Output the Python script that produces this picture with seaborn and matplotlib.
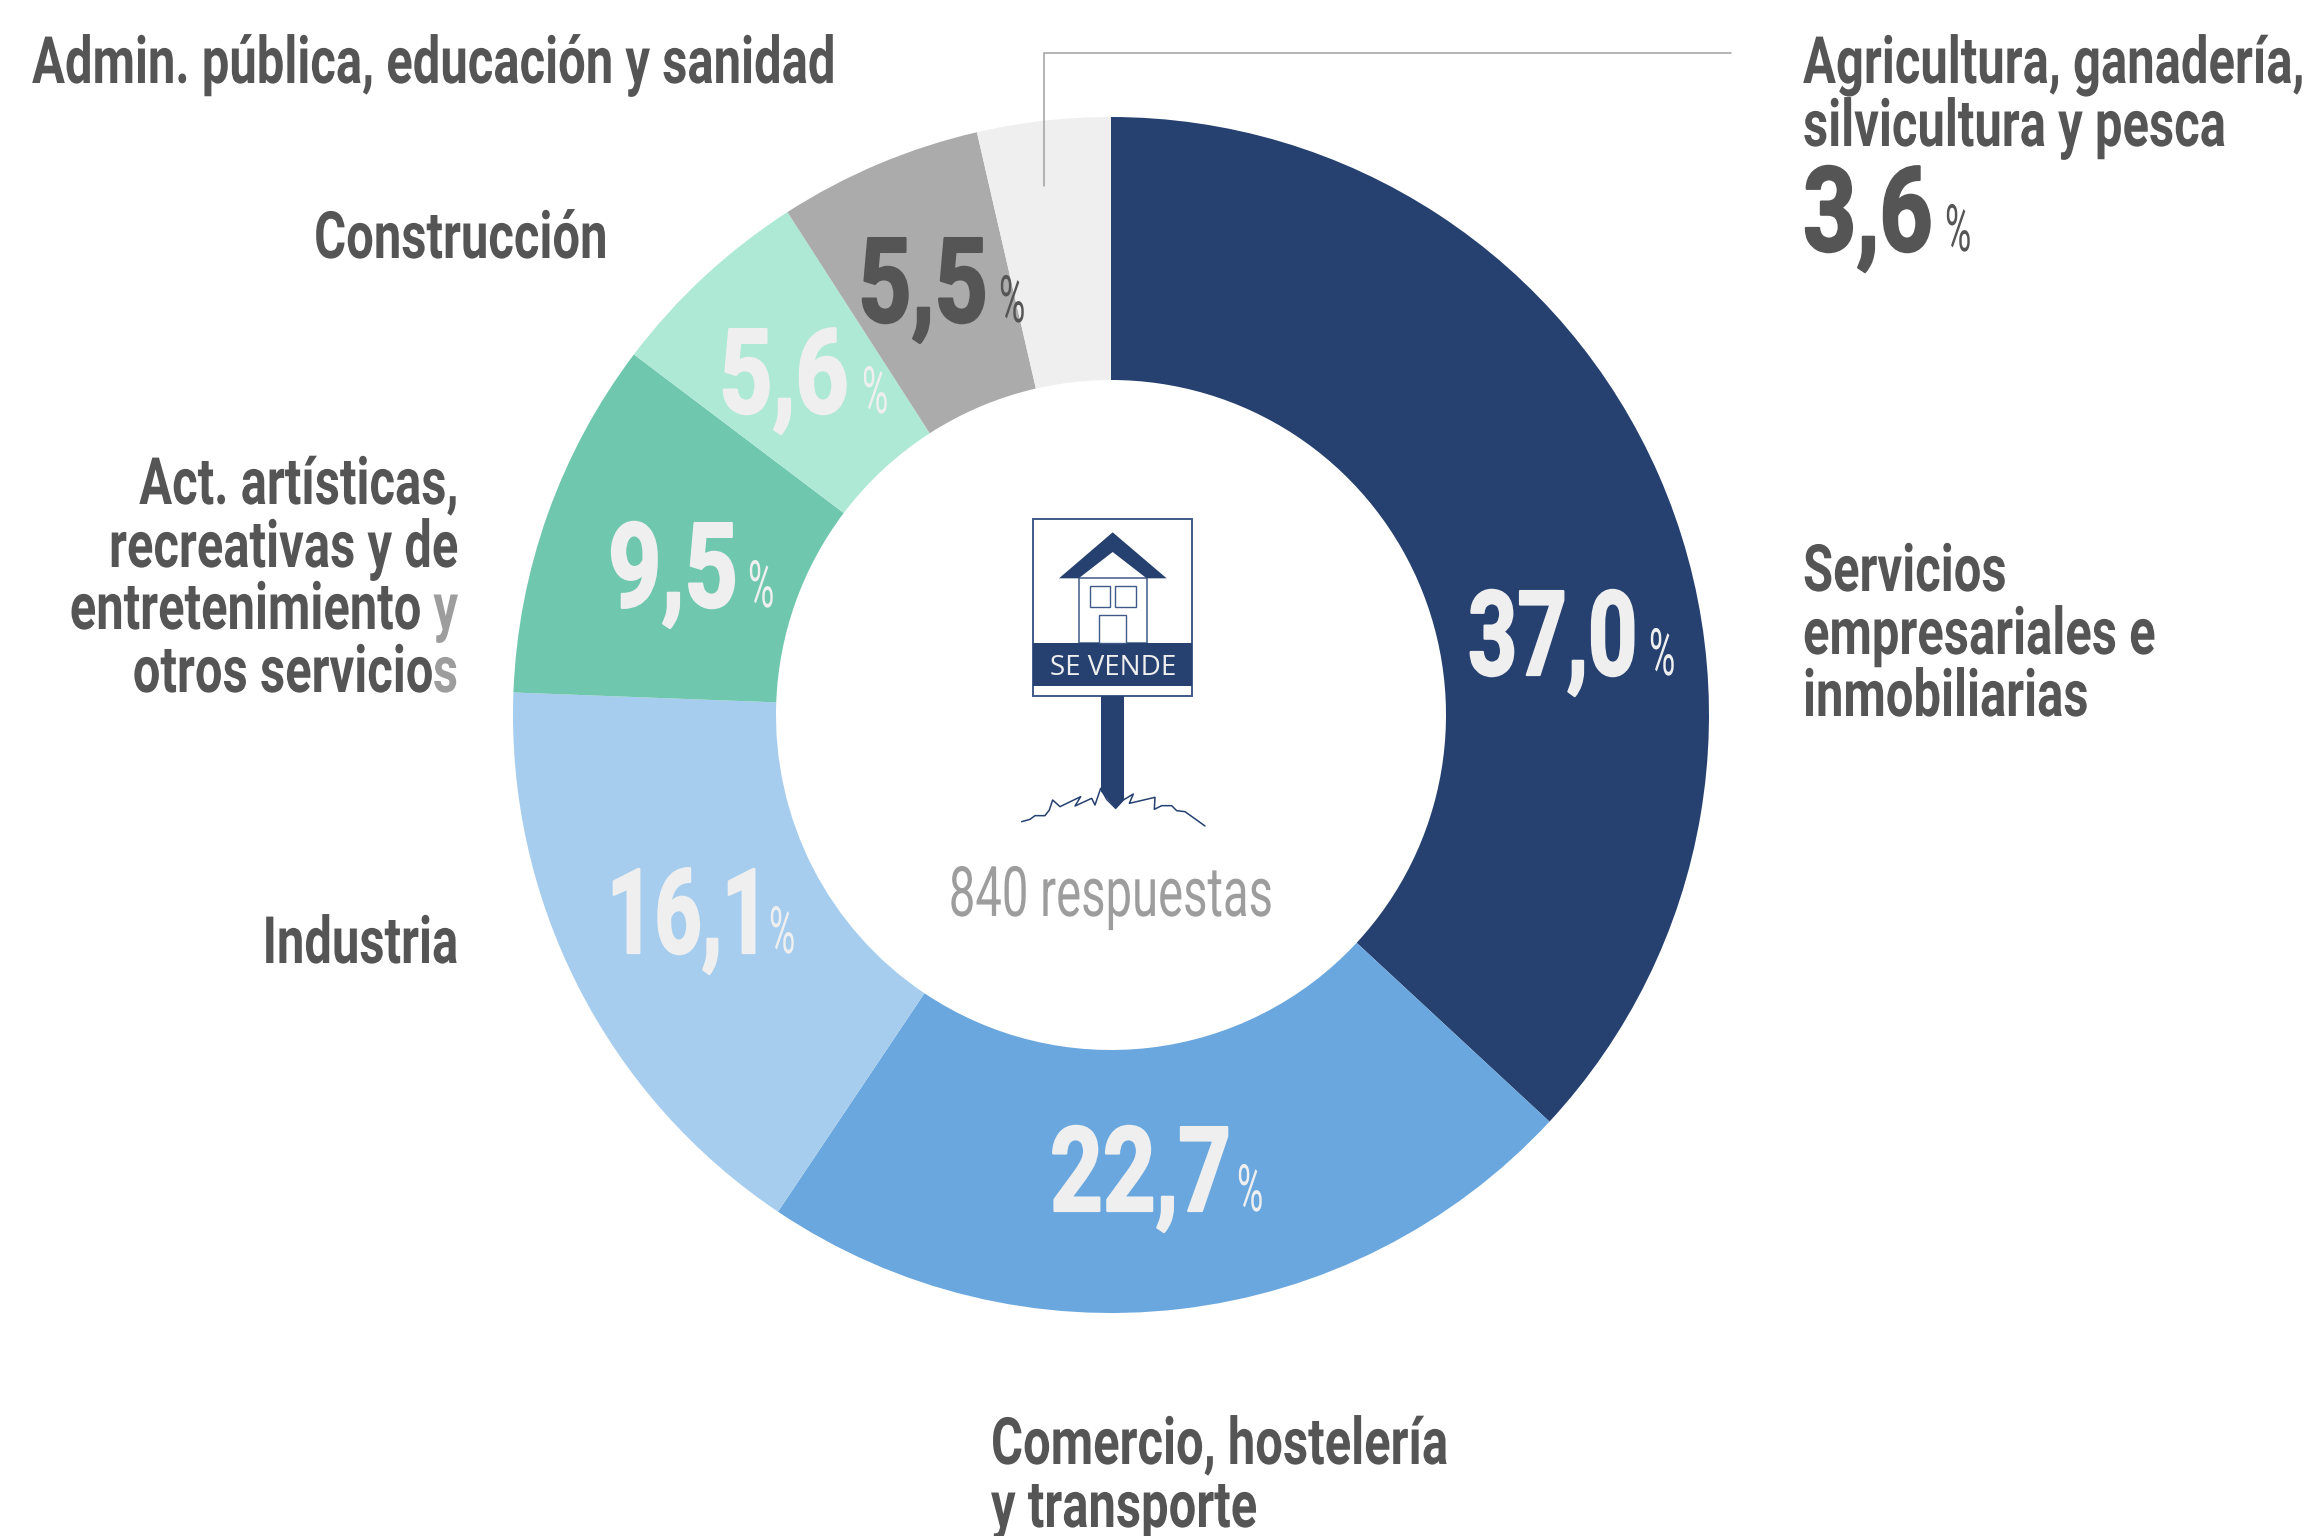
import matplotlib
matplotlib.use("Agg")
import matplotlib.pyplot as plt
import matplotlib.patches as mp
from matplotlib.patheffects import AbstractPathEffect
from matplotlib.transforms import Affine2D, Bbox
import seaborn as sns

sectores = ["Servicios empresariales e inmobiliarias", "Comercio, hostelería y transporte", "Industria",
            "Act. artísticas, recreativas y de entretenimiento y otros servicios", "Construcción",
            "Admin. pública, educación y sanidad", "Agricultura, ganadería, silvicultura y pesca"]
porcentajes = [37.0, 22.7, 16.1, 9.5, 5.6, 5.5, 3.6]
arcos_dibujados = [36.9, 22.5, 16.2, 9.7, 5.6, 5.5, 3.6]
colores = ["#264170", "#69A7DE", "#A6CDEE", "#6FC7AE", "#ADE9D5", "#ABABAB", "#EFEFEF"]
respuestas = "840 respuestas"

DARK, GREY, LIGHT = "#555555", "#9D9D9D", "#EFEFEF"
W, H = 2316, 1536
FONT = "Roboto"

sns.set_theme(style="white")
plt.rcParams["font.family"] = [FONT, "DejaVu Sans"]
fig = plt.figure(figsize=(W / 100, H / 100), dpi=100)
ax = fig.add_axes([0, 0, 1, 1])
cx, cy, R, r = 1111, 715, 598, 335
ax.pie(arcos_dibujados, colors=sns.color_palette(colores), startangle=90, counterclock=False,
       center=(cx, H - cy), radius=R, wedgeprops=dict(width=R - r, linewidth=0))
ax.set_xlim(0, W)
ax.set_ylim(0, H)
ax.set_aspect("equal")
ax.axis("off")
rend = fig.canvas.get_renderer()


class Squeeze(AbstractPathEffect):
    """Draws a text condensed horizontally about its origin (no condensed font is installed)."""
    def __init__(self, sx, stroke=0.0):
        super().__init__()
        self.sx, self.stroke = sx, stroke

    def draw_path(self, renderer, gc, tpath, affine, rgbFace=None):
        aff = Affine2D().scale(self.sx, 1) + affine
        if self.stroke:
            g = renderer.new_gc()
            g.copy_properties(gc)
            g.set_linewidth(self.stroke)
            g.set_foreground(rgbFace)
            renderer.draw_path(g, tpath, aff, rgbFace)
            g.restore()
        else:
            renderer.draw_path(gc, tpath, aff, rgbFace)


def put(x, y, s, col, size, weight, sx, stroke=0.0, z=5):
    t = ax.text(x, H - y, s, color=col, fontsize=size, fontweight=weight, va="baseline", ha="left", zorder=z)
    t.set_path_effects([Squeeze(sx, stroke)])
    w = t.get_window_extent(rend).width * sx
    orig = t.get_window_extent

    def extent(renderer=None, dpi=None):
        b = orig(renderer, dpi)
        return Bbox.from_extents(b.x0, b.y0, b.x0 + (b.x1 - b.x0) * sx, b.y1)

    t.get_window_extent = extent
    return t, w


def runs(x, y, parts, ha="left"):
    """parts: (text, colour, size, weight, sx); y is the baseline measured from the top."""
    items = [put(0, y, *p) for p in parts]
    total = sum(w for _, w in items)
    cur = x - total if ha == "right" else x - total / 2 if ha == "center" else x
    for t, w in items:
        t.set_x(cur)
        cur += w


LAB, LSX = 47, 0.75
def lab(x, y, s, ha="left"):
    runs(x, y, [(s, DARK, LAB, "bold", LSX)], ha)


lab(32, 83, "Admin. pública, educación y sanidad")
lab(607, 258, "Construcción", "right")
lab(458, 504, "Act. artísticas,", "right")
lab(458, 567, "recreativas y de", "right")
runs(458, 629, [("entretenimiento ", DARK, LAB, "bold", LSX), ("y", GREY, LAB, "bold", LSX)], "right")
runs(458, 692, [("otros servicio", DARK, LAB, "bold", LSX), ("s", GREY, LAB, "bold", LSX)], "right")
lab(458, 963, "Industria", "right")
lab(991, 1464, "Comercio, hostelería")
lab(991, 1527, "y transporte")
lab(1803, 591, "Servicios")
lab(1803, 654, "empresariales e")
lab(1803, 716, "inmobiliarias")
lab(1803, 83, "Agricultura, ganadería,")
lab(1803, 146, "silvicultura y pesca")

NUM = 85
def valor(x, y, i, col, sx, xp):
    s = f"{porcentajes[i]:.1f}".replace(".", ",")
    put(x, y, s, col, NUM, "bold", sx, stroke=1.6)
    put(xp, y, "%", col, 47, "normal", 0.55)


valor(1468, 675, 0, LIGHT, 0.73, 1649)
valor(1050, 1211, 1, LIGHT, 0.78, 1237)
valor(607, 953, 2, LIGHT, 0.70, 769)
valor(608, 607, 3, LIGHT, 0.79, 748)
valor(719, 413, 4, LIGHT, 0.79, 862)
valor(858, 322, 5, DARK, 0.79, 999)
valor(1803, 251, 6, DARK, 0.79, 1945)

runs(cx, 916, [(respuestas, GREY, 50, "normal", 0.68)], "center")

# leader line
ax.plot([1044, 1044, 1731], [H - 186, H - 53, H - 53], color="#A0A0A0", lw=1.1, zorder=4, solid_joinstyle="miter")

# icon (sign, house, post, grass) in reference pixels from the crop
NAVY = colores[0]
def P(pts):
    return [(980 + a / 3, H - (480 + b / 3)) for a, b in pts]

ax.add_patch(mp.Polygon(P([(160, 118), (637, 118), (637, 648), (160, 648)]), fc="white", ec="#3F5A88", lw=1.4, zorder=6))
ax.add_patch(mp.Polygon(P([(160, 490), (637, 490), (637, 617), (160, 617)]), fc=NAVY, ec="none", zorder=7))
ax.add_patch(mp.Polygon(P([(296, 295), (500, 295), (500, 490), (296, 490)]), fc="white", ec="#3F5A88", lw=1.1, zorder=6))
ax.add_patch(mp.Polygon(P([(398, 157), (560, 295), (500, 295), (398, 216), (296, 295), (237, 295)]), fc=NAVY, ec="none", zorder=7))
for q in ([(330, 317), (391, 317), (391, 380), (330, 380)], [(405, 317), (467, 317), (467, 380), (405, 380)],
          [(357, 406), (439, 406), (439, 490), (357, 490)]):
    ax.add_patch(mp.Polygon(P(q), fc="white", ec="#3F5A88", lw=1.0, zorder=7))
ax.add_patch(mp.Polygon(P([(363, 648), (432, 648), (432, 960), (407, 985), (363, 935)]), fc=NAVY, ec="none", zorder=6))
g = P([(125, 1025), (150, 1018), (165, 1007), (195, 1007), (208, 990), (218, 960), (240, 980), (302, 950), (285, 978),
       (335, 955), (345, 975), (362, 925), (380, 958), (407, 985), (430, 960), (460, 942), (448, 970), (525, 952),
       (523, 988), (545, 977), (575, 977), (590, 992), (615, 995), (650, 1020), (675, 1038)])
ax.plot([a for a, _ in g], [b for _, b in g], color=NAVY, lw=1.1, zorder=7)
ax.text(980 + 398 / 3, H - (480 + 584 / 3), "SE VENDE", color=LIGHT, fontsize=20, family="Open Sans", ha="center", va="baseline", zorder=8)

fig.savefig("out.png", dpi=100, facecolor="white")
